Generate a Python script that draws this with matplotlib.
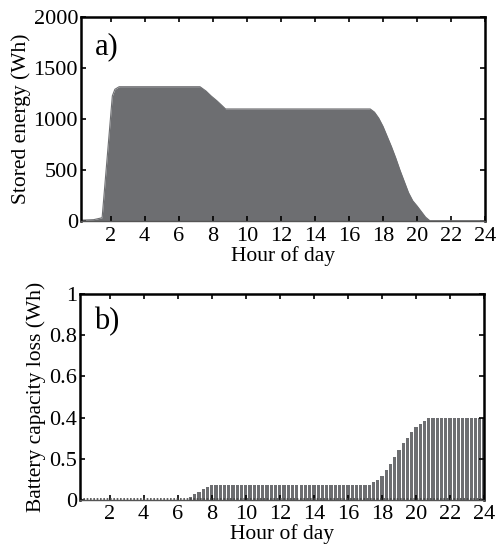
import matplotlib
matplotlib.use("Agg")
import matplotlib.pyplot as plt
import numpy as np

plt.rcParams['font.family'] = ['Liberation Serif', 'DejaVu Serif']

# stored energy (Wh), breakpoints read from panel a)
hour_a = [0.25, 1.0, 1.4, 1.5, 2.1, 2.25, 2.5, 7.25, 7.6, 7.9, 8.25, 8.5, 8.75,
          17.25, 17.5, 17.75, 18.0, 18.25, 18.5, 18.75, 19.0, 19.25, 19.5, 19.75,
          20.0, 20.25, 20.5, 20.75, 24.0]
energy = [10, 15, 30, 35, 1228, 1293, 1318, 1318, 1276, 1228, 1179, 1140, 1100,
          1100, 1069, 1010, 930, 830, 730, 620, 500, 390, 280, 200,
          150, 95, 40, 5, 5]

# battery capacity loss (Wh), one bar per 15 min, panel b)
hour_b = [0.25 * (k + 1) for k in range(96)]
loss = ([0.0] * 26
        + [0.013, 0.029, 0.040, 0.052, 0.062]
        + [0.072] * 38
        + [0.086, 0.097, 0.118, 0.146, 0.175, 0.207, 0.243, 0.275, 0.300,
           0.330, 0.353, 0.369, 0.385]
        + [0.397] * 14)

xticks = list(range(2, 25, 2))
yticks_a = [0, 500, 1000, 1500, 2000]
yticks_b = [0, 0.2, 0.4, 0.6, 0.8, 1]
ylabels_b = ['0', '0.5', '0.4', '0.6', '0.8', '1']

grey = '#6d6e71'
fs_tick = 16
fs_lab = 15.5

fig = plt.figure(figsize=(4.96, 5.53), dpi=100)
ax1 = fig.add_axes([0.163, 0.600, 0.815, 0.369])
ax2 = fig.add_axes([0.161, 0.096, 0.815, 0.372])


def style(ax):
    ax.set_xlim(0.25, 24)
    ax.set_xticks(xticks)
    ax.tick_params(direction='in', top=True, right=True, length=3.5, width=1.2,
                   labelsize=fs_tick)
    ax.tick_params(axis='x', pad=4)
    ax.tick_params(axis='y', pad=2)
    for s in ['top', 'left', 'right']:
        ax.spines[s].set_linewidth(1.8)
    ax.spines['bottom'].set_linewidth(1.0)
    ax.spines['bottom'].set_color('#555555')
    ax.set_xlabel('Hour of day', fontsize=fs_lab, labelpad=0)


ax1.fill_between(hour_a, energy, 0, color=grey, lw=0)
ax1.plot(hour_a, energy, color=grey, lw=0.8)
style(ax1)
ax1.set_ylim(0, 2000)
ax1.set_yticks(yticks_a)
ax1.set_ylabel('Stored energy (Wh)', fontsize=fs_lab, labelpad=2)
ax1.text(0.035, 0.855, 'a)', transform=ax1.transAxes, fontsize=22,
         ha='left', va='center')

ax2.bar(hour_b, loss, width=0.19, color=grey, lw=0)
ax2.axhline(0.003, color='#444444', lw=1.2, ls=(0, (1, 1)))
style(ax2)
ax2.set_ylim(0, 1)
ax2.set_yticks(yticks_b)
ax2.set_yticklabels(ylabels_b)
ax2.set_ylabel('Battery capacity loss (Wh)', fontsize=fs_lab, labelpad=2)
ax2.text(0.035, 0.866, 'b)', transform=ax2.transAxes, fontsize=22,
         ha='left', va='center')

fig.savefig('out.png', dpi=100)
